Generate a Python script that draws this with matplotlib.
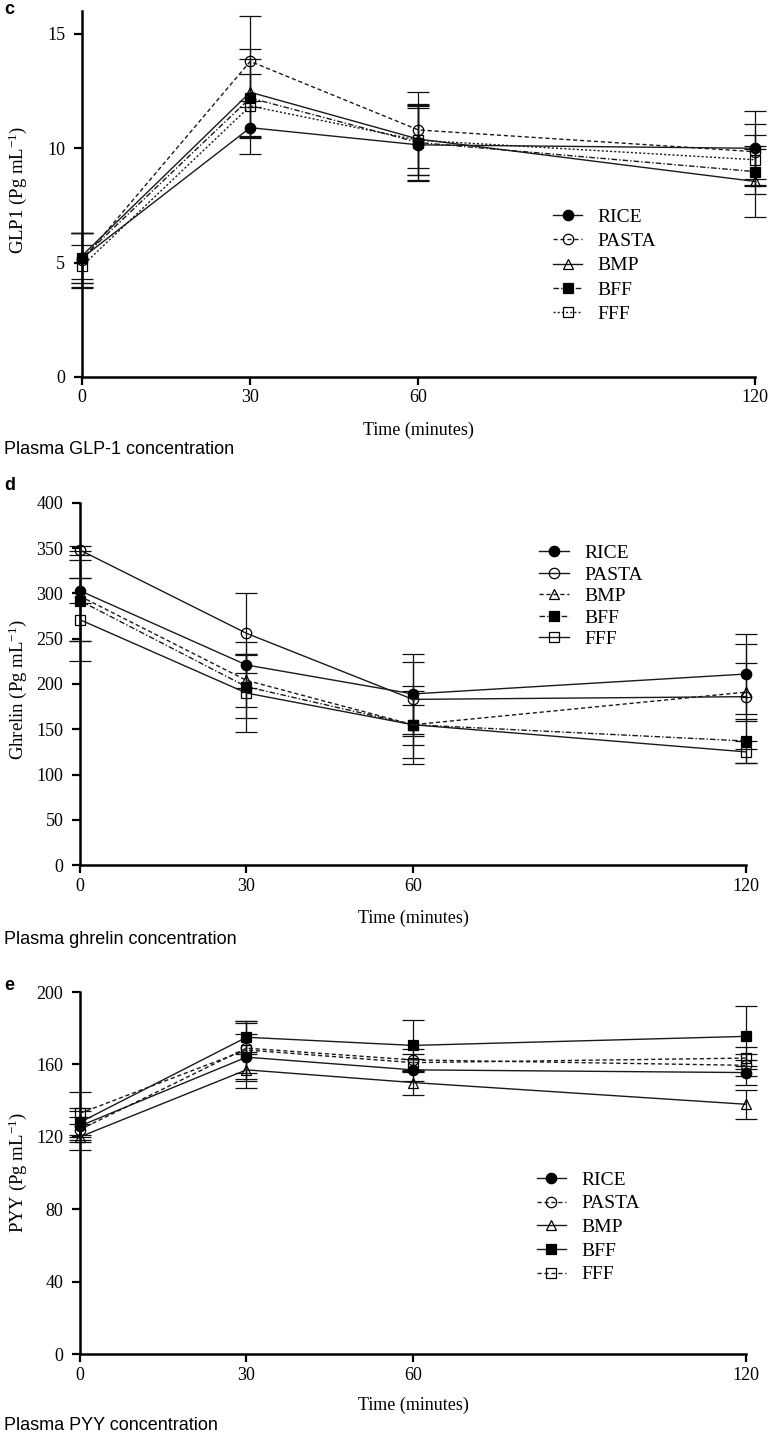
import matplotlib
matplotlib.use("Agg")
import matplotlib.pyplot as plt

plt.rcParams['font.family'] = ['Liberation Serif', 'DejaVu Serif']
plt.rcParams['mathtext.fontset'] = 'custom'
plt.rcParams['mathtext.rm'] = 'Liberation Serif'
plt.rcParams['mathtext.it'] = 'Liberation Serif:italic'

times = [0, 30, 60, 120]
series = ["RICE", "PASTA", "BMP", "BFF", "FFF"]

# GLP-1 (panel c)
glp1_rice = [5.2, 10.9, 10.15, 10.0]
glp1_pasta = [5.1, 13.8, 10.8, 9.85]
glp1_bmp = [5.3, 12.45, 10.4, 8.55]
glp1_bff = [5.2, 12.2, 10.25, 8.98]
glp1_fff = [4.85, 11.85, 10.35, 9.5]
glp1_rice_err = [1.1, 1.15, 1.6, 1.65]
glp1_pasta_err = [1.2, 2.0, 1.65, 1.2]
glp1_bmp_err = [1.0, 1.9, 1.55, 1.55]
glp1_bff_err = [1.1, 1.7, 1.65, 1.0]
glp1_fff_err = [0.9, 1.4, 1.5, 1.1]

# Ghrelin (panel d)
ghr_rice = [303, 221, 189, 211]
ghr_pasta = [348, 256, 183, 186]
ghr_bmp = [297, 204, 155, 191]
ghr_bff = [292, 197, 155, 137]
ghr_fff = [271, 190, 155, 125]
ghr_rice_err = [14, 25, 44, 44]
ghr_pasta_err = [5, 44, 41, 58]
ghr_bmp_err = [50, 29, 43, 32]
ghr_bff_err = [45, 35, 37, 24]
ghr_fff_err = [46, 43, 22, 12]

# PYY (panel e)
pyy_rice = [126, 164, 157, 155.5]
pyy_pasta = [124, 169, 162.5, 159.5]
pyy_bmp = [120, 157, 150, 138]
pyy_bff = [128, 175, 170.5, 175.5]
pyy_fff = [133, 168, 161, 163.5]
pyy_rice_err = [8, 13, 6, 7]
pyy_pasta_err = [7, 14, 6, 6]
pyy_bmp_err = [7, 10, 7, 8]
pyy_bff_err = [8, 9, 14, 16.5]
pyy_fff_err = [12, 16, 5, 6]

markers = ['o', 'o', '^', 's', 's']
filled = [True, False, False, True, False]

dash = (0, (3, 2))
dashdot = (0, (4, 1.5, 1, 1.5))
dot = (0, (1.5, 1.5))

panels = [
    dict(mean=[glp1_rice, glp1_pasta, glp1_bmp, glp1_bff, glp1_fff],
         err=[glp1_rice_err, glp1_pasta_err, glp1_bmp_err, glp1_bff_err, glp1_fff_err],
         styles=['-', dash, '-', dashdot, dot],
         pos=[0.1066, 0.7373, 0.8752, 0.2550], ylim=16, yticks=[0, 5, 10, 15],
         ylabel="GLP1 (Pg mL$^{-1}$)", ylab_y=190, letter='c', letter_y=9,
         xlab_y=430, cap_y=450, caption="Plasma GLP-1 concentration",
         leg=(0.700, 0.462), lspace=0.35),
    dict(mean=[ghr_rice, ghr_pasta, ghr_bmp, ghr_bff, ghr_fff],
         err=[ghr_rice_err, ghr_pasta_err, ghr_bmp_err, ghr_bff_err, ghr_fff_err],
         styles=['-', '-', dash, dashdot, '-'],
         pos=[0.1040, 0.3972, 0.8660, 0.2523], ylim=400, yticks=list(range(0, 401, 50)),
         ylabel="Ghrelin (Pg mL$^{-1}$)", ylab_y=690, letter='d', letter_y=485,
         xlab_y=918, cap_y=940, caption="Plasma ghrelin concentration",
         leg=(0.690, 0.885), lspace=0.2),
    dict(mean=[pyy_rice, pyy_pasta, pyy_bmp, pyy_bff, pyy_fff],
         err=[pyy_rice_err, pyy_pasta_err, pyy_bmp_err, pyy_bff_err, pyy_fff_err],
         styles=['-', dash, '-', '-', dash],
         pos=[0.1040, 0.0564, 0.8660, 0.2523], ylim=200, yticks=list(range(0, 201, 40)),
         ylabel="PYY (Pg mL$^{-1}$)", ylab_y=1173, letter='e', letter_y=985,
         xlab_y=1405, cap_y=1426, caption="Plasma PYY concentration",
         leg=(0.686, 0.505), lspace=0.31),
]

W, H = 769, 1435
fig = plt.figure(figsize=(W / 100, H / 100), dpi=100)

for p in panels:
    ax = fig.add_axes(p['pos'])
    handles = []
    for i, name in enumerate(series):
        face = 'black' if filled[i] else 'none'
        ax.errorbar(times, p['mean'][i], yerr=p['err'][i], fmt='none', ecolor='#111111',
                    elinewidth=0.9, capsize=8, capthick=0.9, clip_on=False, zorder=2)
        ln, = ax.plot(times, p['mean'][i], color='#1a1a1a', lw=1.0, ls=p['styles'][i],
                      marker=markers[i], markersize=7.5 if markers[i] != 's' else 7,
                      markerfacecolor=face, markeredgecolor='black', markeredgewidth=0.9,
                      clip_on=False, zorder=3, label=name)
        handles.append(ln)
    ax.set_xlim(0, 120)
    ax.set_ylim(0, p['ylim'])
    ax.set_xticks(times)
    ax.set_yticks(p['yticks'])
    for s in ['top', 'right']:
        ax.spines[s].set_visible(False)
    for s in ['left', 'bottom']:
        ax.spines[s].set_linewidth(1.8)
    ax.tick_params(axis='both', direction='out', length=6, width=1.6, labelsize=13)
    ax.tick_params(axis='x', pad=3)
    ax.tick_params(axis='y', pad=6)
    ax.legend(handles=handles, loc='upper left', bbox_to_anchor=p['leg'], frameon=False,
              fontsize=14, handlelength=1.5, handletextpad=0.8, labelspacing=p['lspace'],
              borderpad=0, borderaxespad=0)
    x_mid = p['pos'][0] + p['pos'][2] / 2
    fig.text(x_mid, 1 - p['xlab_y'] / H, "Time (minutes)", ha='center', va='center', fontsize=13)
    fig.text(18 / W, 1 - p['ylab_y'] / H, p['ylabel'], rotation=90, ha='center', va='center',
             fontsize=13.5)
    fig.text(4 / W, 1 - p['cap_y'] / H, p['caption'], ha='left', va='center', fontsize=13,
             family=['Liberation Sans', 'DejaVu Sans'])
    fig.text(4 / W, 1 - p['letter_y'] / H, p['letter'], ha='left', va='center', fontsize=13,
             fontweight='bold', family=['Liberation Sans', 'DejaVu Sans'])

fig.savefig("out.png", dpi=100)
